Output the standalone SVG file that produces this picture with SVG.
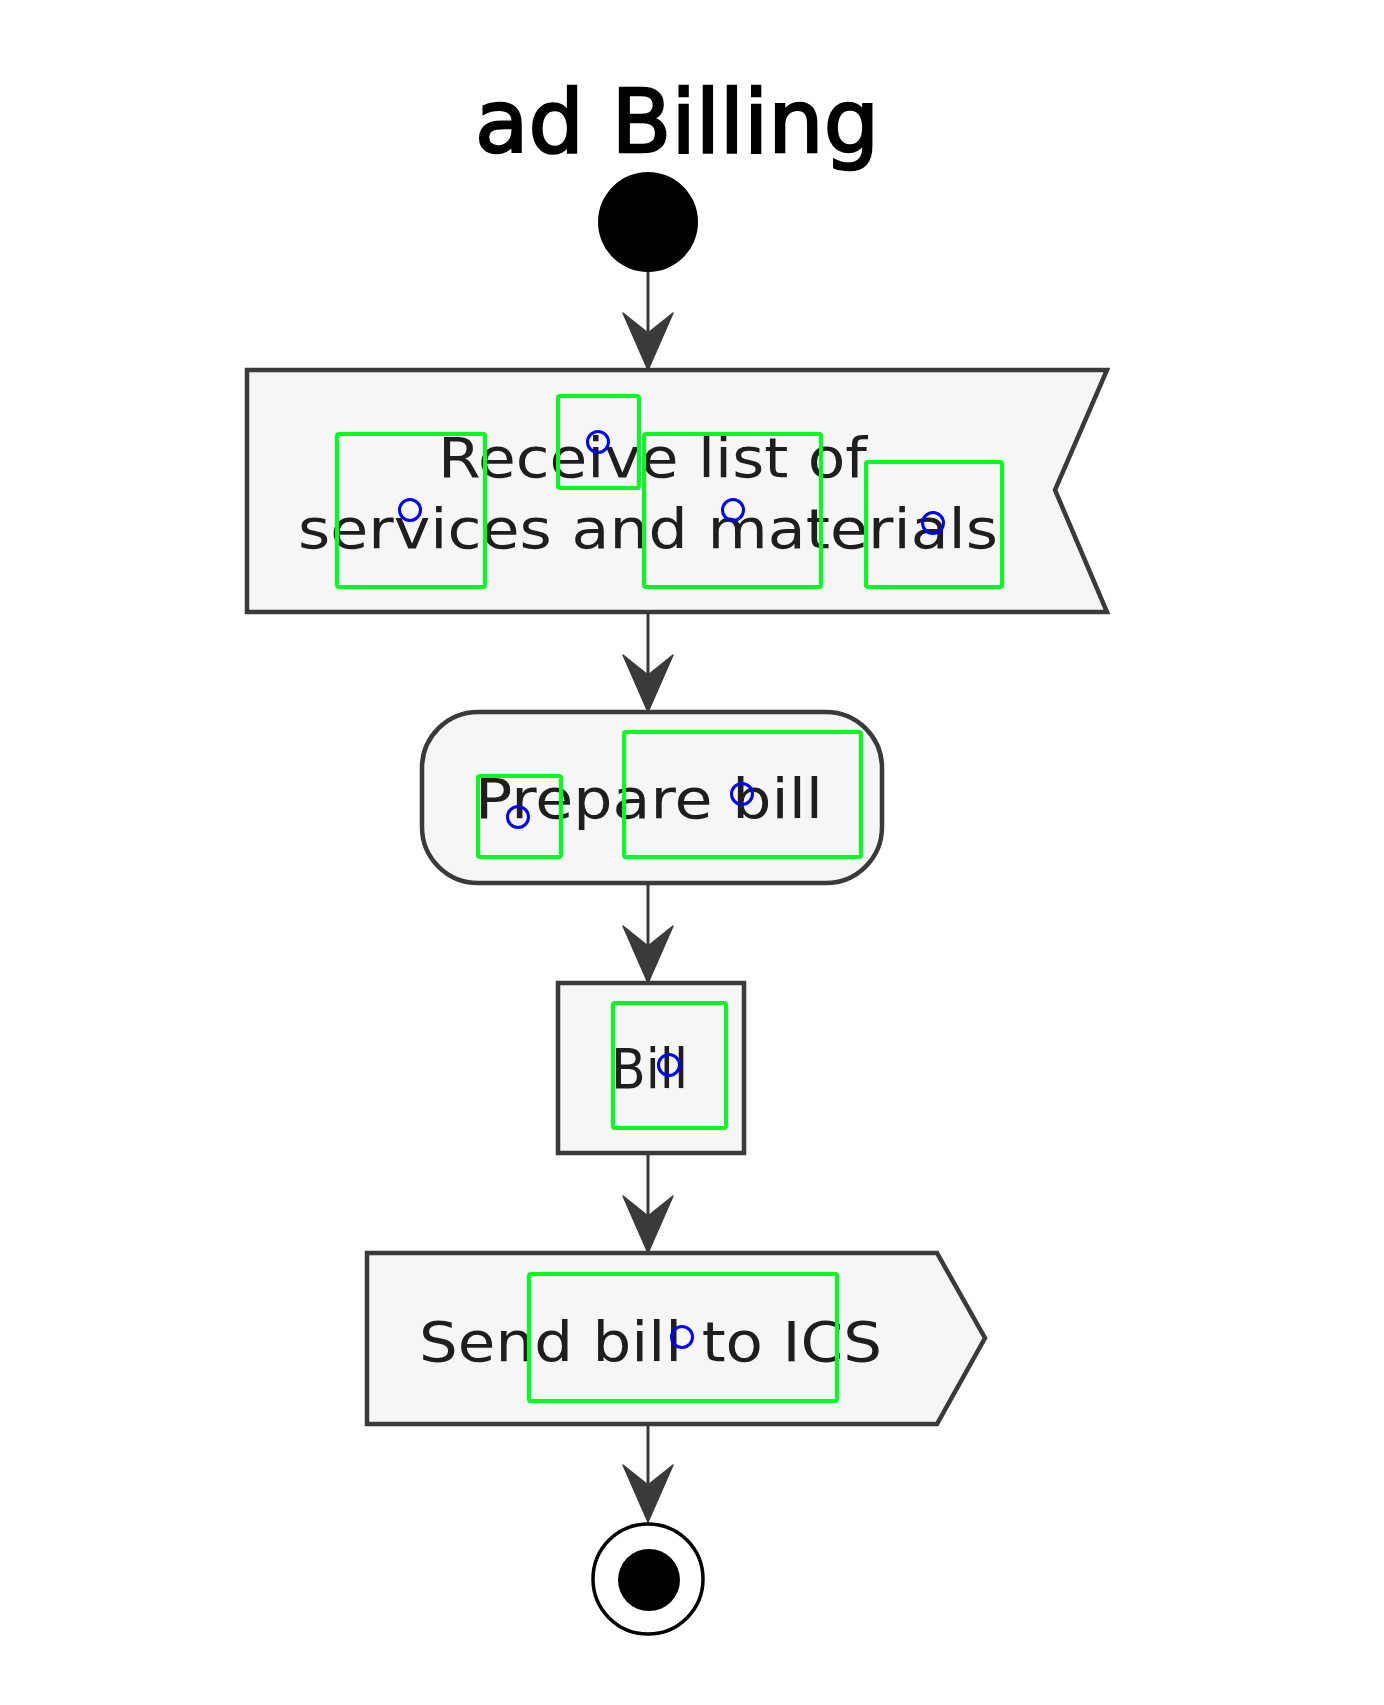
<svg xmlns="http://www.w3.org/2000/svg" xmlns:xlink="http://www.w3.org/1999/xlink" width="1384" height="1705" viewBox="0 0 1384 1705">
<style>
  .bg { fill: #ffffff; }
  .node { fill: #f6f6f6; stroke: #3a3a3a; stroke-width: 4.5; stroke-linejoin: miter; }
  .lbl { font-family: "DejaVu Sans", "Liberation Sans", sans-serif; font-size: 55px; fill: #1e1e1e; }
  .title { font-family: "DejaVu Sans", "Liberation Sans", sans-serif; font-size: 88px; fill: #000000; stroke: #000000; stroke-width: 2.5; }
  .edge { stroke: #3a3a3a; stroke-width: 3; fill: none; }
  .head { fill: #3a3a3a; stroke: #3a3a3a; stroke-width: 1.5; stroke-linejoin: round; }
  .gbox { fill: none; stroke: #00ff1a; stroke-width: 4; }
  .bdot { fill: none; stroke: #0000ff; stroke-width: 3; }
</style>
<defs>
  <path id="arrowhead" class="head" d="M0,0 L-25,-57 L0,-37 L25,-57 Z"/>
</defs>
<rect class="bg" x="0" y="0" width="1384" height="1705"/>

<text class="title" x="475" y="152" textLength="404" lengthAdjust="spacingAndGlyphs">ad Billing</text>

<g id="connectors">
  <line class="edge" x1="648" y1="272" x2="648" y2="350"/>
  <use xlink:href="#arrowhead" x="648" y="370"/>
  <line class="edge" x1="648" y1="612" x2="648" y2="690"/>
  <use xlink:href="#arrowhead" x="648" y="712"/>
  <line class="edge" x1="648" y1="883" x2="648" y2="962"/>
  <use xlink:href="#arrowhead" x="648" y="983"/>
  <line class="edge" x1="648" y1="1153" x2="648" y2="1232"/>
  <use xlink:href="#arrowhead" x="648" y="1253"/>
  <line class="edge" x1="648" y1="1424" x2="648" y2="1502"/>
  <use xlink:href="#arrowhead" x="648" y="1522"/>
</g>

<g id="start">
  <circle cx="648" cy="222" r="50" fill="#000000"/>
</g>

<g id="receive">
  <polygon class="node" points="247,370 1107,370 1055,490 1107,612 247,612"/>
  <text class="lbl" x="438" y="477" textLength="429" lengthAdjust="spacingAndGlyphs">Receive list of</text>
  <text class="lbl" x="298" y="548" textLength="700" lengthAdjust="spacingAndGlyphs">services and materials</text>
</g>

<g id="prepare">
  <rect class="node" x="422" y="712" width="460" height="171" rx="56" ry="56"/>
  <text class="lbl" x="475" y="818" textLength="348" lengthAdjust="spacingAndGlyphs">Prepare bill</text>
</g>

<g id="bill">
  <rect class="node" x="558" y="983" width="186" height="170"/>
  <text class="lbl" x="611" y="1088" textLength="77" lengthAdjust="spacingAndGlyphs">Bill</text>
</g>

<g id="send">
  <polygon class="node" points="367,1253 937,1253 985,1338 937,1424 367,1424"/>
  <text class="lbl" x="419" y="1361" textLength="463" lengthAdjust="spacingAndGlyphs">Send bill to ICS</text>
</g>

<g id="end">
  <circle cx="648" cy="1579" r="55" fill="#ffffff" stroke="#000000" stroke-width="3.5"/>
  <circle cx="649" cy="1580" r="31" fill="#000000"/>
</g>

<g id="overlay">
  <rect class="gbox" x="337" y="434" width="148" height="153" rx="2"/>
  <circle class="bdot" cx="410" cy="510" r="10.5"/>
  <rect class="gbox" x="558" y="396" width="81" height="92" rx="2"/>
  <circle class="bdot" cx="598" cy="442" r="10.5"/>
  <rect class="gbox" x="644" y="434" width="177" height="153" rx="2"/>
  <circle class="bdot" cx="733" cy="510" r="10.5"/>
  <rect class="gbox" x="866" y="462" width="136" height="125" rx="2"/>
  <circle class="bdot" cx="933" cy="523" r="10.5"/>
  <rect class="gbox" x="478" y="776" width="83" height="81" rx="2"/>
  <circle class="bdot" cx="518" cy="817" r="10.5"/>
  <rect class="gbox" x="624" y="732" width="237" height="125" rx="2"/>
  <circle class="bdot" cx="742" cy="794" r="10.5"/>
  <rect class="gbox" x="613" y="1003" width="113" height="125" rx="2"/>
  <circle class="bdot" cx="669" cy="1065" r="10.5"/>
  <rect class="gbox" x="529" y="1274" width="308" height="127" rx="2"/>
  <circle class="bdot" cx="682" cy="1337" r="10.5"/>
</g>
</svg>
